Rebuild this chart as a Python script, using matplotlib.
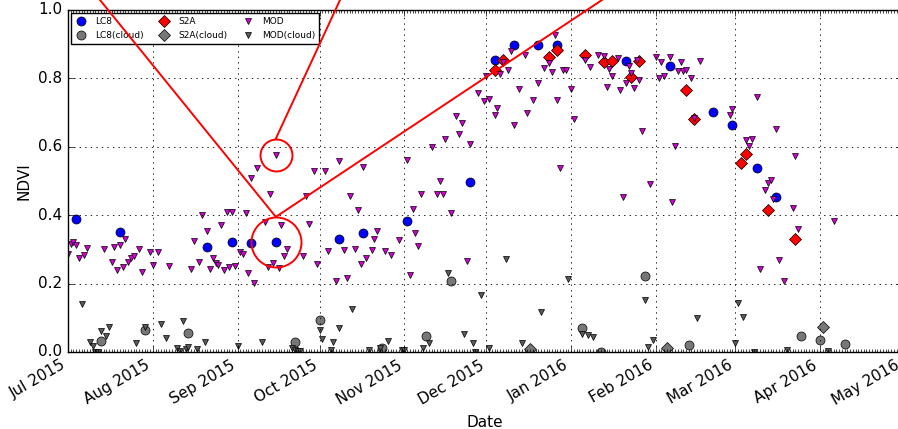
import numpy as np
import pandas as pd
import matplotlib
matplotlib.use("Agg")
import matplotlib.pyplot as plt
import matplotlib.dates as mdates

# ---- observations: day offset from 2015-07-01 and NDVI ----
lc8_day = [3, 19, 51, 60, 67, 76, 99, 108, 124, 147, 156, 163, 172, 179, 204, 220, 236, 243, 252, 259]
lc8_ndvi = [0.390, 0.351, 0.306, 0.323, 0.320, 0.322, 0.331, 0.348, 0.383, 0.496,
            0.853, 0.899, 0.899, 0.899, 0.851, 0.835, 0.701, 0.663, 0.537, 0.452]

lc8c_day = [12, 28, 44, 83, 92, 115, 131, 140, 188, 195, 211, 227, 268, 275, 284]
lc8c_ndvi = [0.033, 0.063, 0.056, 0.028, 0.095, 0.013, 0.048, 0.209, 0.069, 0.0,
             0.222, 0.020, 0.048, 0.036, 0.022]

s2a_day = [156, 159, 176, 179, 189, 196, 199, 209, 206, 226, 229, 246, 248, 256, 266]
s2a_ndvi = [0.826, 0.855, 0.864, 0.882, 0.868, 0.847, 0.850, 0.852, 0.804, 0.766,
            0.680, 0.554, 0.579, 0.415, 0.330]

s2ac_day = [169, 219, 276]
s2ac_ndvi = [0.008, 0.011, 0.074]

mod_day = [0, 1, 2, 3, 4, 6, 7, 13, 16, 17, 18, 19, 20, 21, 22, 23, 24, 26, 27, 30,
           31, 33, 37, 45, 46, 48, 49, 51, 52, 53, 54, 55, 56, 57, 58, 59, 60, 61, 63, 64,
           65, 66, 67, 68, 69, 72, 73, 74, 75, 76, 77, 78, 79, 80, 86, 87, 88, 90, 91, 94,
           95, 98, 99, 101, 102, 103, 105, 106, 107, 108, 109, 111, 112, 113, 116, 118, 121, 124, 125, 126,
           127, 128, 129, 133, 135, 136, 137, 138, 140, 142, 143, 144, 146, 147, 150, 152, 153, 154, 156, 157,
           158, 159, 161, 162, 163, 165, 167, 168, 170, 172, 174, 176, 177, 178, 179, 180, 181, 182, 184, 185,
           189, 191, 194, 196, 197, 198, 199, 201, 202, 203, 204, 205, 206, 207, 208, 209, 210, 213, 215, 216,
           217, 218, 220, 221, 222, 223, 224, 225, 226, 228, 229, 231, 242, 243, 248, 249, 250, 252, 253, 255,
           256, 257, 258, 259, 260, 262, 265, 266, 267, 280]
mod_ndvi = [0.288, 0.315, 0.322, 0.313, 0.276, 0.284, 0.305, 0.302, 0.264, 0.306, 0.241, 0.313, 0.248, 0.331, 0.264, 0.276, 0.280, 0.300, 0.233, 0.292,
            0.255, 0.291, 0.252, 0.243, 0.325, 0.264, 0.400, 0.353, 0.242, 0.275, 0.259, 0.253, 0.371, 0.241, 0.409, 0.249, 0.408, 0.252, 0.293, 0.286,
            0.406, 0.231, 0.510, 0.203, 0.538, 0.380, 0.249, 0.463, 0.259, 0.577, 0.246, 0.371, 0.282, 0.301, 0.281, 0.457, 0.374, 0.528, 0.256, 0.530,
            0.296, 0.208, 0.559, 0.297, 0.216, 0.455, 0.302, 0.415, 0.256, 0.541, 0.276, 0.298, 0.329, 0.355, 0.294, 0.284, 0.327, 0.561, 0.225, 0.419,
            0.347, 0.310, 0.462, 0.599, 0.462, 0.500, 0.462, 0.623, 0.407, 0.690, 0.638, 0.670, 0.266, 0.608, 0.756, 0.733, 0.806, 0.740, 0.694, 0.714,
            0.814, 0.847, 0.825, 0.879, 0.665, 0.770, 0.867, 0.700, 0.738, 0.786, 0.831, 0.845, 0.818, 0.926, 0.738, 0.539, 0.825, 0.825, 0.770, 0.682,
            0.853, 0.833, 0.869, 0.866, 0.775, 0.828, 0.806, 0.860, 0.765, 0.453, 0.786, 0.835, 0.815, 0.773, 0.855, 0.794, 0.646, 0.490, 0.864, 0.802,
            0.848, 0.806, 0.864, 0.439, 0.602, 0.821, 0.848, 0.821, 0.825, 0.802, 0.685, 0.851, 0.692, 0.711, 0.619, 0.601, 0.623, 0.747, 0.242, 0.475,
            0.494, 0.504, 0.446, 0.651, 0.269, 0.207, 0.420, 0.573, 0.361, 0.383]

modc_day = [5, 8, 9, 10, 11, 12, 14, 15, 25, 28, 34, 36, 40, 41, 42, 43, 44, 47, 50, 62,
            71, 82, 83, 84, 85, 92, 93, 96, 97, 99, 104, 110, 114, 117, 122, 123, 130, 132, 139, 145,
            148, 149, 151, 154, 160, 166, 173, 183, 188, 190, 192, 211, 212, 214, 230, 244, 245, 247, 251, 263,
            278]
modc_ndvi = [0.140, 0.029, 0.018, 0.0, 0.0, 0.061, 0.047, 0.074, 0.025, 0.074, 0.081, 0.042, 0.011, 0.004, 0.091, 0.010, 0.014, 0.010, 0.030, 0.018,
             0.029, 0.011, 0.006, 0.003, 0.003, 0.064, 0.038, 0.005, 0.028, 0.069, 0.127, 0.006, 0.011, 0.033, 0.006, 0.006, 0.011, 0.027, 0.232, 0.053,
             0.025, 0.0, 0.167, 0.013, 0.271, 0.027, 0.118, 0.214, 0.054, 0.050, 0.045, 0.152, 0.015, 0.035, 0.098, 0.027, 0.144, 0.103, 0.0, 0.006,
             0.003]

# highlighted acquisition (the zoomed-in pixels)
focus_day = 76
focus_ndvi_low = 0.322
focus_ndvi_high = 0.577

START = pd.Timestamp("2015-07-01")
END = pd.Timestamp("2016-05-01")


def to_dates(days):
    return START + pd.to_timedelta(np.asarray(days, dtype=float), unit="D")


plt.style.use("classic")
plt.rcParams.update({
    "figure.facecolor": "white",
    "savefig.facecolor": "white",
    "font.family": ["DejaVu Sans"],
    "font.size": 11,
})

W, H = 898, 429
fig = plt.figure(figsize=(W / 100, H / 100), dpi=100)
ax = fig.add_axes([68 / W, (H - 352) / H, (902 - 68) / W, (352 - 10) / H])

mk = dict(linestyle="none", markeredgecolor="k", markeredgewidth=0.5)
ax.plot(to_dates(lc8_day), lc8_ndvi, "o", color="#0000ff", markersize=6.5, label="LC8", **mk)
ax.plot(to_dates(lc8c_day), lc8c_ndvi, "o", color="#777777", markersize=6.5, label="LC8(cloud)", **mk)
ax.plot(to_dates(s2a_day), s2a_ndvi, "D", color="#ff0000", markersize=6, label="S2A", **mk)
ax.plot(to_dates(s2ac_day), s2ac_ndvi, "D", color="#777777", markersize=6, label="S2A(cloud)", **mk)
ax.plot(to_dates(mod_day), mod_ndvi, "v", color="#d200d2", markersize=5, label="MOD", **mk)
ax.plot(to_dates(modc_day), modc_ndvi, "v", color="#5a5a5a", markersize=5, label="MOD(cloud)", **mk)

ax.set_xlim(START, END)
ax.set_ylim(0.0, 1.0)
ax.set_yticks(np.arange(0, 1.01, 0.2))
ax.xaxis.set_major_locator(mdates.MonthLocator())
ax.xaxis.set_major_formatter(mdates.DateFormatter("%b %Y"))
ax.xaxis.set_minor_locator(mdates.DayLocator())
ax.tick_params(axis="x", which="minor", length=2)
for lbl in ax.get_xticklabels():
    lbl.set_rotation(30)
    lbl.set_ha("right")
ax.grid(True, which="major", color="k", linestyle=":", linewidth=0.6)
ax.set_xlabel("Date")
ax.set_ylabel("NDVI")

leg = ax.legend(loc="upper left", ncol=3, numpoints=1, fontsize=6.5,
                handlelength=1.2, columnspacing=1.7, borderpad=0.45,
                labelspacing=0.55, handletextpad=0.95, borderaxespad=0.35)
leg.get_frame().set_linewidth(1.0)

# callout circles around the highlighted pixels
fd = to_dates([focus_day])
ax.plot(fd, [focus_ndvi_low], "o", markersize=36, markerfacecolor="none",
        markeredgecolor="r", markeredgewidth=1.4, clip_on=False)
ax.plot(fd, [focus_ndvi_high], "o", markersize=23, markerfacecolor="none",
        markeredgecolor="r", markeredgewidth=1.4, clip_on=False)

# leader lines from the circles toward the panels above the plot
to_fig = fig.transFigure.inverted()
x0 = mdates.date2num(fd[0])
p_low = ax.transData.transform((x0, focus_ndvi_low))
p_high = ax.transData.transform((x0, focus_ndvi_high))
r_low = 36 / 72 * 100 / 2
r_high = 23 / 72 * 100 / 2
start_low = to_fig.transform((p_low[0], p_low[1] + r_low))
start_high = to_fig.transform((p_high[0], p_high[1] + r_high))
for (sx, sy), (ex, ey) in [
    (start_low, (100 / W, 1.0)),
    (start_low, (602 / W, 1.0)),
    (start_high, (340 / W, 1.0)),
]:
    fig.add_artist(plt.Line2D([sx, ex], [sy, ey], color="r", linewidth=1.4,
                              transform=fig.transFigure))

fig.savefig("out.png", dpi=100)
